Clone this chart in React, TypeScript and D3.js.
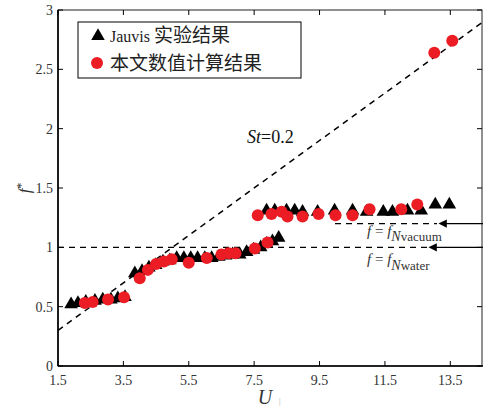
import React from "react";
import * as d3 from "d3";

// Jauvis experiment (triangles)
const expU = [
  1.9, 2.11, 2.35, 2.63, 2.87, 3.12, 3.33, 3.55,
  3.85, 4.07, 4.28, 4.49, 4.71, 4.92, 5.13, 5.35, 5.56, 5.77, 5.99, 6.2, 6.42, 6.63, 6.84, 7.06, 7.27, 7.48, 7.7, 7.88, 8.06, 8.25,
  7.88, 8.13, 8.49, 8.74, 8.98, 9.44, 9.96, 10.51, 10.94, 11.45, 11.73, 12.19, 12.61, 13.04, 13.47,
];
const expF = [
  0.52, 0.53, 0.54, 0.55, 0.56, 0.56, 0.57, 0.58,
  0.78, 0.8, 0.83, 0.85, 0.88, 0.89, 0.91, 0.91, 0.91, 0.91, 0.91, 0.91, 0.92, 0.93, 0.94, 0.94, 0.96, 0.98, 1.0, 1.03, 1.05, 1.08,
  1.31, 1.31, 1.31, 1.31, 1.3, 1.3, 1.31, 1.31, 1.3, 1.3, 1.3, 1.31, 1.31, 1.36, 1.36,
];

// numerical results (circles)
const numU = [
  2.32, 2.56, 3.03, 3.52,
  4.0, 4.25, 4.5, 4.74, 4.98, 5.5, 6.05, 6.5, 6.72, 6.93, 7.52, 7.91,
  7.61, 8.03, 8.34, 8.52, 8.98, 9.47, 9.99, 10.51, 11.03, 12.0, 12.49,
  13.01, 13.56,
];
const numF = [
  0.53, 0.54, 0.56, 0.58,
  0.74, 0.81, 0.86, 0.88, 0.9, 0.87, 0.91, 0.94, 0.95, 0.95, 0.99, 1.04,
  1.27, 1.28, 1.3, 1.26, 1.26, 1.28, 1.27, 1.27, 1.32, 1.32, 1.36,
  2.64, 2.74,
];

const xTicks = [1.5, 3.5, 5.5, 7.5, 9.5, 11.5, 13.5];
const yTicks = [0, 0.5, 1, 1.5, 2, 2.5, 3];
const strouhal = 0.2;
const fWater = 1.0;
const fVacuum = 1.2;

const W = 484;
const H = 410;
const left = 58;
const right = 483;
const top = 10;
const bottom = 366;
const red = "#ec1c24";
const serif = "'Liberation Serif', 'Times New Roman', serif";
const cjk = "'Liberation Serif', 'Noto Sans CJK SC', serif";

export default function App() {
  const x = d3.scaleLinear().domain([1.5, 14.5]).range([left, right]);
  const y = d3.scaleLinear().domain([0, 3]).range([bottom, top]);
  const tri = d3.symbol(d3.symbolTriangle, 80)();
  const stLine = d3.line<number>()
    .x((u) => x(u))
    .y((u) => y(strouhal * u));
  const uEnd = 3 / strouhal > 14.5 ? 14.5 : 3 / strouhal;

  return (
    <svg width={W} height={H} style={{ position: "absolute", left: 0, top: 0, background: "#fff" }}>
      <defs>
        <clipPath id="plot">
          <rect x={left} y={top} width={right - left} height={bottom - top} />
        </clipPath>
        <marker id="arr" viewBox="0 0 10 10" refX="1" refY="5" markerWidth="9" markerHeight="7" orient="auto-start-reverse">
          <path d="M0,0 L10,5 L0,10 z" fill="#000" />
        </marker>
      </defs>

      {/* frame */}
      <rect x={left} y={top} width={right - 1 - left} height={bottom - top} fill="none" stroke="#222" strokeWidth={1} />
      <line x1={left} x2={left} y1={top} y2={bottom} stroke="#000" strokeWidth={1.6} />
      <line x1={left} x2={right} y1={bottom} y2={bottom} stroke="#000" strokeWidth={1.6} />

      {xTicks.map((t) => (
        <g key={"x" + t}>
          <line x1={x(t)} x2={x(t)} y1={bottom} y2={bottom - 5} stroke="#000" />
          <line x1={x(t)} x2={x(t)} y1={top} y2={top + 5} stroke="#000" />
          <text x={x(t)} y={bottom + 19} textAnchor="middle" fontFamily={serif} fontSize={14} fill="#333">
            {t.toFixed(1)}
          </text>
        </g>
      ))}
      {yTicks.map((t) => (
        <g key={"y" + t}>
          <line x1={left} x2={left + 5} y1={y(t)} y2={y(t)} stroke="#000" />
          <line x1={right - 1} x2={right - 6} y1={y(t)} y2={y(t)} stroke="#000" />
          <text x={left - 5} y={y(t) + 5} textAnchor="end" fontFamily={serif} fontSize={14} fill="#333">
            {String(t)}
          </text>
        </g>
      ))}

      <g clipPath="url(#plot)">
        <path d={stLine([1.5, uEnd]) || ""} fill="none" stroke="#000" strokeWidth={1.5} strokeDasharray="6,5" />
        <line x1={left} x2={427} y1={y(fWater)} y2={y(fWater)} stroke="#000" strokeWidth={1.3} strokeDasharray="6,5" />
        <line x1={335} x2={437} y1={y(fVacuum)} y2={y(fVacuum)} stroke="#000" strokeWidth={1.3} strokeDasharray="6,5" />
      </g>
      <line x1={right} x2={436} y1={y(fWater)} y2={y(fWater)} stroke="#000" strokeWidth={1.2} markerEnd="url(#arr)" />
      <line x1={right} x2={446} y1={y(fVacuum)} y2={y(fVacuum)} stroke="#000" strokeWidth={1.2} markerEnd="url(#arr)" />

      {expU.map((u, i) => (
        <path key={"t" + i} d={tri || ""} transform={`translate(${x(u)},${y(expF[i])})`} fill="#000" />
      ))}
      {numU.map((u, i) => (
        <circle key={"c" + i} cx={x(u)} cy={y(numF[i])} r={6} fill={red} />
      ))}

      {/* annotations */}
      <text x={247} y={143} fontFamily={serif} fontSize={18} fill="#111">
        <tspan fontStyle="italic">St</tspan>=0.2
      </text>
      <text x={367} y={236} fontFamily={serif} fontSize={15} fill="#333">
        <tspan fontStyle="italic">f</tspan> = <tspan fontStyle="italic">f</tspan>
        <tspan dy={5} fontStyle="italic" fontSize={14}>N</tspan>
        <tspan fontSize={13}>vacuum</tspan>
      </text>
      <text x={367} y={264} fontFamily={serif} fontSize={15} fill="#333">
        <tspan fontStyle="italic">f</tspan> = <tspan fontStyle="italic">f</tspan>
        <tspan dy={6} fontStyle="italic" fontSize={14}>N</tspan>
        <tspan fontSize={13}>water</tspan>
      </text>

      {/* axis titles */}
      <text transform={`translate(30,${y(1.5)}) rotate(-90)`} textAnchor="middle" fontFamily={serif} fontSize={17} fill="#333">
        <tspan fontStyle="italic">f</tspan>
        <tspan dy={-5} fontSize={12}>*</tspan>
      </text>
      <text x={265} y={404} textAnchor="middle" fontFamily={serif} fontStyle="italic" fontSize={20} fill="#333">
        U
      </text>
      <text x={279} y={404} fontFamily={serif} fontSize={8} fill="#aaa">|</text>

      {/* legend */}
      <rect x={78} y={22} width={223} height={56} fill="#fff" stroke="#000" strokeWidth={1} />
      <path d={tri || ""} transform={`translate(98,36)`} fill="#000" />
      <text x={110} y={42} fontFamily={cjk} fontSize={16} fill="#222">
        Jauvis <tspan fontSize={19}>实验结果</tspan>
      </text>
      <circle cx={97} cy={63} r={6} fill={red} />
      <text x={110} y={70} fontFamily={cjk} fontSize={19} fill="#222">本文数值计算结果</text>
    </svg>
  );
}
